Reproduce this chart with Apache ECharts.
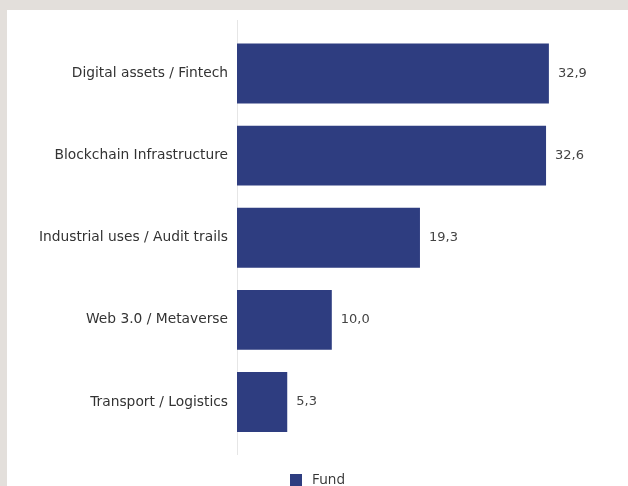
<!DOCTYPE html>
<html>
<head>
<meta charset="utf-8">
<script src="https://cdn.jsdelivr.net/npm/echarts@6/dist/echarts.min.js"></script>
<style>
html,body{margin:0;padding:0;width:628px;height:486px;background:#e3dfdb;overflow:hidden;}
#chart{position:absolute;left:7px;top:10px;width:621px;height:476px;background:#ffffff;}
</style>
</head>
<body>
<div id="chart"></div>
<script>
const categories = ["Digital assets / Fintech", "Blockchain Infrastructure", "Industrial uses / Audit trails", "Web 3.0 / Metaverse", "Transport / Logistics"];
const fundValues = [32.9, 32.6, 19.3, 10.0, 5.3];
const seriesName = "Fund";

const chart = echarts.init(document.getElementById('chart'), null, {renderer: 'canvas'});
chart.setOption({
  backgroundColor: '#ffffff',
  animation: false,
  textStyle: {fontFamily: 'DejaVu Sans'},
  grid: {left: 230, top: 22.5, height: 410.5, width: 331.8, containLabel: false},
  legend: {
    data: [seriesName], left: 'center', top: 463, padding: 0, itemWidth: 12, itemHeight: 12,
    icon: 'rect',
    textStyle: {fontSize: 14, color: '#333', fontFamily: 'Open Sans', padding: [4, 0, 0, 5]}
  },
  xAxis: {
    type: 'value', min: 0, max: 35, show: false
  },
  yAxis: {
    type: 'category', data: categories, inverse: true,
    axisLine: {show: false}, axisTick: {show: false},
    axisLabel: {margin: 9, fontSize: 13.8, color: '#333', fontFamily: 'DejaVu Sans'}
  },
  graphic: [{
    type: 'line', shape: {x1: 230.5, y1: 10, x2: 230.5, y2: 445},
    style: {stroke: '#e6e6e6', lineWidth: 1}, silent: true
  }],
  series: [{
    name: seriesName, type: 'bar', data: fundValues, barWidth: '73%',
    itemStyle: {color: '#2e3d80'},
    label: {
      show: true, position: 'right', distance: 9, fontSize: 13, color: '#444',
      fontFamily: 'DejaVu Sans',
      formatter: p => p.value.toFixed(1).replace('.', ',')
    }
  }]
});
</script>
</body>
</html>
